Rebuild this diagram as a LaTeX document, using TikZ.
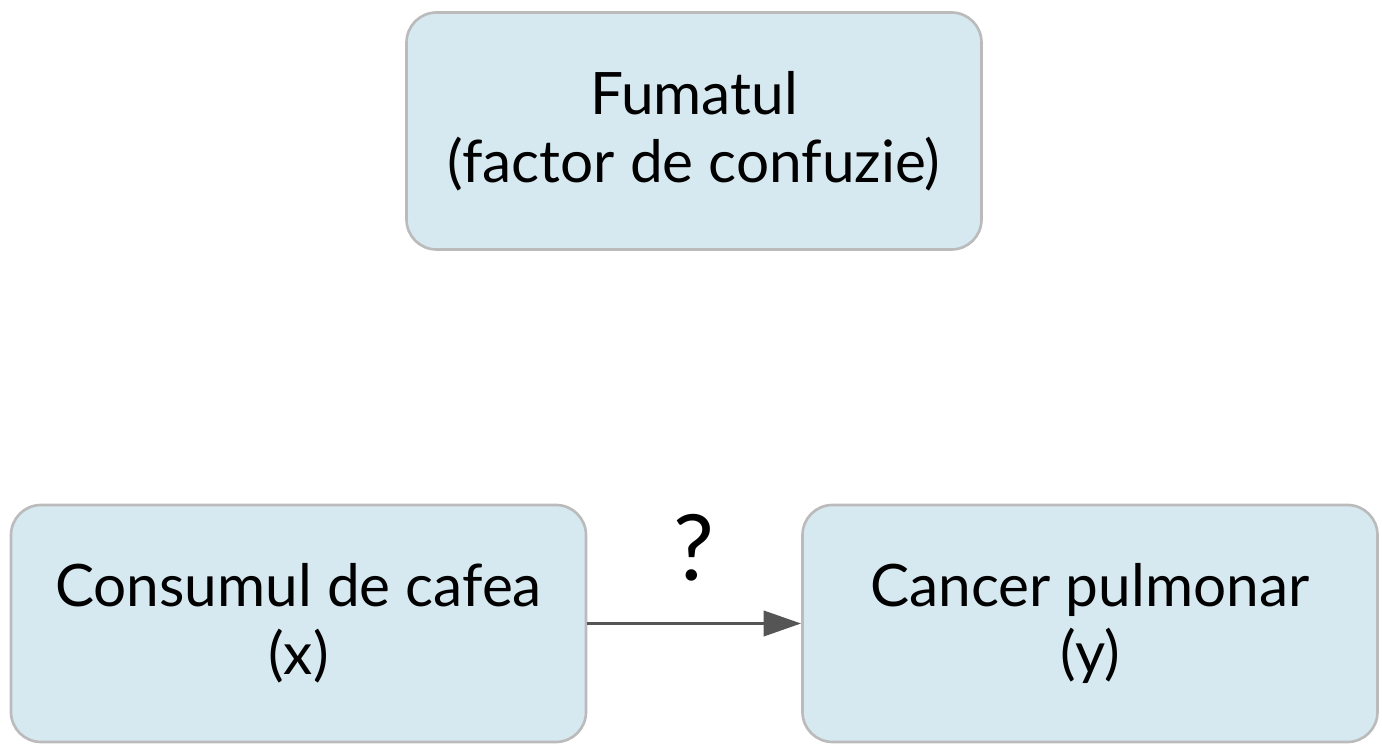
\documentclass[tikz,border=0pt]{standalone}
\usepackage{fontspec}
\setmainfont{Lato}
\usetikzlibrary{arrows.meta}
\definecolor{boxfill}{HTML}{D6E8F0}
\definecolor{boxline}{HTML}{BBBBBB}
\definecolor{arrowgray}{HTML}{555555}
\tikzset{
  box/.style={draw=boxline, line width=1.5pt, fill=boxfill, rounded corners=0.6cm,
    minimum width=11.5cm, minimum height=4.74cm, align=center,
    font=\fontsize{33.3}{38.5}\selectfont},
}
\begin{document}
\begin{tikzpicture}
\useasboundingbox (0,0) rectangle (27.64,15.04);
 \node[box] at (13.88, 12.42) (smoke) {Fumatul\\(factor de confuzie)};
 \node[box] at (5.97, 2.57) (coffee) {Consumul de cafea\\(x)};
 \node[box] at (21.8, 2.57) (cancer) {Cancer pulmonar\\(y)};

 \draw[line width=2.2pt, arrowgray, -{Triangle[length=0.75cm,width=0.5cm]}](coffee)--(cancer)
   node[midway, above=0.7cm, black, font=\fontsize{52}{56}\selectfont]{?};
\end{tikzpicture}
\end{document}
